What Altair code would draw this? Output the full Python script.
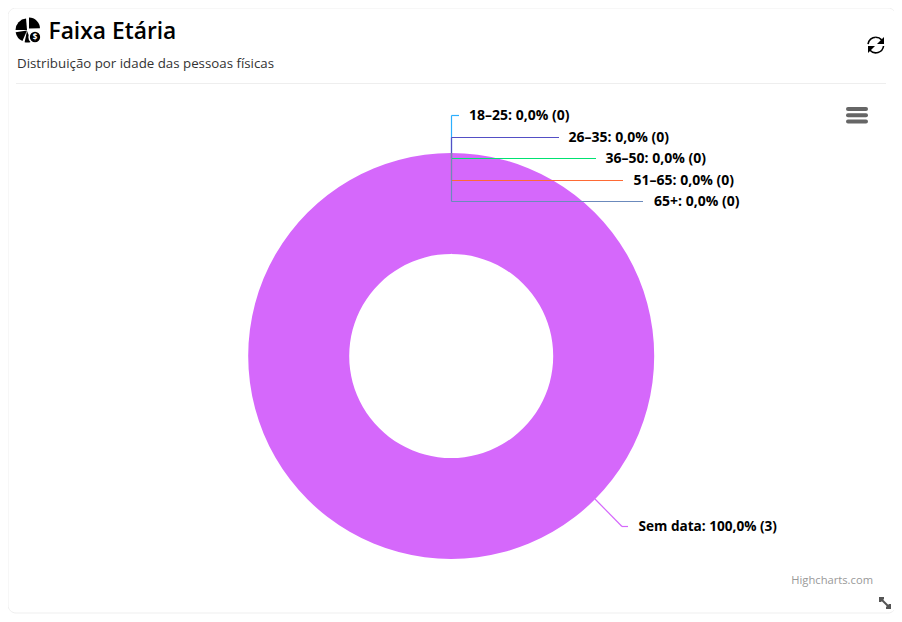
import altair as alt
import pandas as pd

categories = ["18–25", "26–35", "36–50", "51–65", "65+", "Sem data"]
values = [0, 0, 0, 0, 0, 3]
percents = ["0,0%", "0,0%", "0,0%", "0,0%", "0,0%", "100,0%"]
colors = ["#2caffe", "#544fc5", "#00e272", "#fe6a35", "#6b8abc", "#d568fb"]

OFF = 8
def X(v): return alt.value(v - OFF)

empty = alt.Data(values=[{"a": 0}])

def seg(x1, y1, x2, y2, color, w=1.0, cap="butt", op=1.0):
    return alt.Chart(empty).mark_rule(color=color, strokeWidth=w, strokeCap=cap, opacity=op).encode(
        x=X(x1), x2=X(x2), y=X(y1), y2=X(y2))

def txt(s, x, y, size, color="#000000", weight=400, align="left", font="Open Sans"):
    return alt.Chart(empty).mark_text(text=s, font=font, fontSize=size, fontWeight=weight,
                                      color=color, align=align, baseline="middle").encode(x=X(x), y=X(y))

def arc(cx, cy, r0, r1, t0, t1, color):
    return alt.Chart(empty).mark_arc(radius=r1, radius2=r0, theta=t0, theta2=t1, color=color).encode(
        x=X(cx), y=X(cy))

def glyph(px, py, path, color):
    return alt.Chart(empty).mark_point(filled=True, color=color, opacity=1, size=4, shape=path, strokeWidth=0).encode(
        x=X(px), y=X(py))

layers = []

# card
layers.append(alt.Chart(empty).mark_rect(fill="#ffffff", stroke="#efefef", strokeWidth=1, cornerRadius=8).encode(
    x=X(8), x2=X(896), y=X(8), y2=X(613)))

# header
layers.append(seg(16, 83.5, 886, 83.5, "#eeeeee"))
layers.append(txt("Faixa Etária", 48.5, 31.5, 22.8, weight=600))
layers.append(txt("Distribuição por idade das pessoas físicas", 17, 63.5, 13.3, color="#333333"))

# header pie icon
layers.append(arc(29, 28.5, 0, 11, 0.0, 1.55, "#000000"))
layers.append(arc(27, 30, 0, 11.5, 4.72, 6.2, "#000000"))
layers.append(arc(27, 30.5, 0, 11.5, 3.55, 4.55, "#000000"))
layers.append(arc(27, 31, 0, 11.5, 2.75, 3.35, "#000000"))
layers.append(alt.Chart(empty).mark_circle(size=140, color="#000000", stroke="#ffffff", strokeWidth=1.5, opacity=1).encode(
    x=X(35), y=X(37)))
layers.append(txt("$", 35, 37.5, 8, color="#ffffff", weight=700, align="center"))

# refresh icon
layers.append(arc(875.8, 45, 7.0, 8.6, 4.83, 6.283, "#000000"))
layers.append(arc(875.8, 45, 7.0, 8.6, 0, 0.85, "#000000"))
layers.append(arc(875.8, 45, 7.0, 8.6, 1.7, 3.98, "#000000"))
layers.append(glyph(884, 37, "M 0 0 L 0 7 L -7 7 Z", "#000000"))
layers.append(glyph(868, 53, "M 0 0 L 0 -7 L 7 -7 Z", "#000000"))

# hamburger menu
for y in [109, 115.3, 121.5]:
    layers.append(seg(848, y, 866, y, "#666666", w=4, cap="round"))

# donut drawn from the values
table = pd.DataFrame({"cat": categories, "value": values, "pct": percents, "order": range(len(categories))})
layers.append(alt.Chart(table).mark_arc(outerRadius=203, innerRadius=102).encode(
    theta=alt.Theta("value:Q", stack=True, scale=alt.Scale(range=[0, 6.28318])),
    order=alt.Order("order:Q"),
    color=alt.Color("cat:N", sort=categories, scale=alt.Scale(domain=categories, range=colors), legend=None),
    x=X(451.2), y=X(356)))

# leader lines and labels
ys = [115.5, 137.5, 158.5, 180.5, 201.5]
ends = [459, 559, 596, 623, 643]
label_x = [469, 568.5, 605.5, 633.5, 654]
VX = 451.5
for i in range(5):
    layers.append(seg(VX, 153, VX, ys[i], colors[i], w=1.2))
    layers.append(seg(VX, ys[i], ends[i], ys[i], colors[i], w=1.2))
    layers.append(txt(f"{categories[i]}: {percents[i]} ({values[i]})", label_x[i], ys[i], 14, weight=700))

layers.append(seg(595, 499, 622, 526.5, colors[5], w=1.2))
layers.append(seg(622, 526.5, 628, 526.5, colors[5], w=1.2))
layers.append(txt(f"{categories[5]}: {percents[5]} ({values[5]})", 638.5, 526.5, 13.6, weight=700))

# credit
layers.append(txt("Highcharts.com", 873, 581, 11.2, color="#999999", align="right"))

# resize icon
layers.append(seg(881, 599, 889, 607, "#555555", w=2))
layers.append(glyph(879, 597, "M 0 0 L 5 0 L 5 2 L 2 5 L 0 5 Z", "#555555"))
layers.append(glyph(891, 609, "M 0 0 L -5 0 L -5 -2 L -2 -5 L 0 -5 Z", "#555555"))

chart = alt.layer(*layers).properties(
    width=886, height=606, padding=0, background="#ffffff",
    autosize=alt.AutoSizeParams(type="none"),
).configure_view(stroke=None)

chart.save("out.html", embed_options={"renderer": "svg", "actions": False})
